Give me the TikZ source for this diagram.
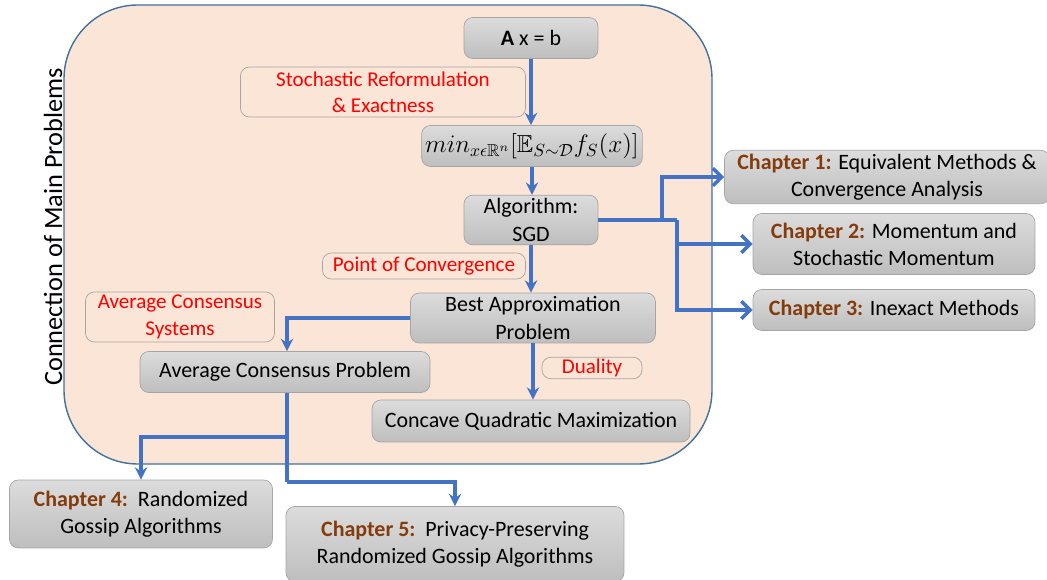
\documentclass[tikz,border=0pt]{standalone}
\usepackage{amsmath}
\usepackage{amssymb}
\usepackage{fontspec}
\setmainfont{Carlito}
\usetikzlibrary{arrows.meta}
\definecolor{peach}{HTML}{FBE5D6}
\definecolor{frameblue}{HTML}{41719C}
\definecolor{lineblue}{HTML}{4472C4}
\definecolor{boxedge}{HTML}{A5A5A5}
\definecolor{boxtop}{HTML}{DCDCDC}
\definecolor{boxbot}{HTML}{BEBEBE}
\definecolor{chbrown}{HTML}{843C0C}
\tikzset{
  grybox/.style={draw=boxedge, top color=boxtop, bottom color=boxbot, rounded corners=5pt,
    align=center, inner sep=2pt, font=\fontsize{12.5}{15.5}\selectfont},
  redbox/.style={draw=boxedge, fill=peach, rounded corners=5pt, text=red,
    align=center, inner sep=1pt, font=\fontsize{12}{15}\selectfont},
  downarr/.style={draw=lineblue, line width=2pt, -{Stealth[length=7pt,width=7pt]}},
  rightarr/.style={draw=lineblue, line width=2pt, -{Straight Barb[length=5pt,width=10pt]}},
  plainline/.style={draw=lineblue, line width=2pt}
}
\newcommand{\chap}[1]{\textcolor{chbrown}{\textbf{#1}}}
\begin{document}
\begin{tikzpicture}[x=0.02cm, y=-0.02cm]
    \useasboundingbox (0,0) rectangle (1047,580);
    % grosser Rahmen
    \draw[draw=frameblue, fill=peach, line width=0.8pt, rounded corners=42pt] (64,5) rectangle (712,464);
    \node[rotate=90, font=\fontsize{15}{17}\selectfont] (frametitle) at (53,227) {Connection of Main Problems};
    % Knoten im Rahmen
    \node[grybox, minimum width=2.68cm, minimum height=0.82cm] (axb) at (531,38) {\textbf{A} x = b};
    \node[redbox, minimum width=5.7cm, minimum height=1.0cm] (reform) at (383,92) {Stochastic Reformulation\\\& Exactness};
    \node[grybox, minimum width=4.32cm, minimum height=0.82cm, font=\fontsize{14}{16}\selectfont] (minp) at (532,146)
      {$min_{x\epsilon\mathbb{R}^n}[\mathbb{E}_{S\sim\mathcal{D}}f_S(x)]$};
    \node[grybox, minimum width=2.68cm, minimum height=0.92cm] (sgd) at (531,220) {Algorithm:\\SGD};
    \node[redbox, minimum width=4.06cm, minimum height=0.52cm] (poc) at (424,266) {Point of Convergence};
    \node[grybox, minimum width=4.9cm, minimum height=1.0cm] (bap) at (533,318) {Best Approximation\\Problem};
    \node[redbox, minimum width=3.78cm, minimum height=1.0cm] (acs) at (180,317) {Average Consensus\\Systems};
    \node[grybox, minimum width=5.8cm, minimum height=0.82cm] (acp) at (285,372) {Average Consensus Problem};
    \node[redbox, minimum width=2.0cm, minimum height=0.36cm] (dual) at (592,368) {Duality};
    \node[grybox, minimum width=6.36cm, minimum height=0.84cm] (cqm) at (531,421) {Concave Quadratic Maximization};
    % Kapitel
    \node[grybox, minimum width=6.5cm, minimum height=1.0cm] (ch1) at (887,177) {\chap{Chapter 1:} Equivalent Methods \&\\Convergence Analysis};
    \node[grybox, minimum width=5.64cm, minimum height=1.22cm] (ch2) at (894,244) {\chap{Chapter 2:} Momentum and\\Stochastic Momentum};
    \node[grybox, minimum width=5.64cm, minimum height=0.82cm] (ch3) at (894,310) {\chap{Chapter 3:} Inexact Methods};
    \node[grybox, minimum width=5.26cm, minimum height=1.36cm] (ch4) at (141,514) {\chap{Chapter 4:}\ \ Randomized\\Gossip Algorithms};
    \node[grybox, minimum width=6.76cm, minimum height=1.5cm] (ch5) at (455,544) {\chap{Chapter 5:}\ \ Privacy-Preserving\\Randomized Gossip Algorithms};
    % Hilfspunkte
    \coordinate (b1) at (662,220);
    \coordinate (b2) at (677,220);
    \coordinate (b3) at (287,437);
    \coordinate (b4) at (287,482);
    % Pfeile
    \draw[downarr] (axb) -- (axb |- minp.north);
    \draw[downarr] (minp) -- (minp.south |- sgd.north);
    \draw[downarr] (sgd.south) -- (sgd.south |- bap.north);
    \draw[downarr] (bap.west) -| (b3 |- acp.north);
    \draw[downarr] (cqm.north -| bap.south) ++(0,-57) -- (cqm.north -| bap.south);
    \draw[plainline] (sgd.east) -- (b2);
    \draw[rightarr] (b1) |- (ch1.west);
    \draw[rightarr] (b2) |- (ch2.west);
    \draw[rightarr] (b2) |- (ch3.west);
    \draw[plainline] (b3 |- acp.south) -- (b4);
    \draw[downarr] (b3) -| (ch4.north);
    \draw[downarr] (b4) -| (ch5.north);
\end{tikzpicture}
\end{document}
